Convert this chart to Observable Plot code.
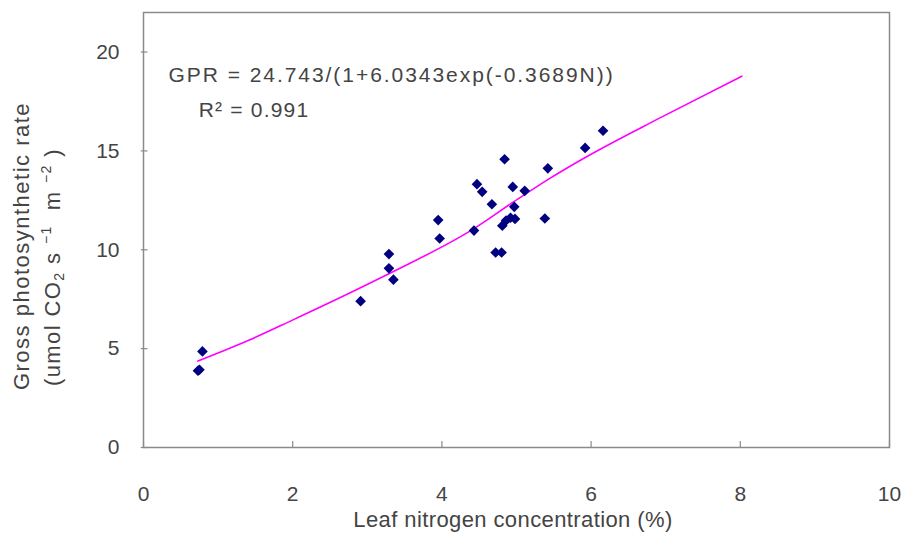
<!DOCTYPE html>
<html>
<head>
<meta charset="utf-8">
<script src="https://cdn.jsdelivr.net/npm/d3@7"></script>
<script src="https://cdn.jsdelivr.net/npm/@observablehq/plot@0.6"></script>
<style>
  html, body { margin: 0; padding: 0; background: #fff; }
  #chart { width: 904px; height: 534px; }
</style>
</head>
<body>
<div id="chart"></div>
<script>
// Observed data: leaf nitrogen (%) and gross photosynthetic rate
const leafN = [0.73, 0.75, 0.79, 2.91, 3.29, 3.29, 3.35, 3.95, 3.97, 4.43, 4.47, 4.54, 4.67, 4.72, 4.80,
               4.84, 4.81, 4.86, 4.92, 4.98, 4.97, 4.95, 5.11, 5.38, 5.42, 5.92, 6.16];
const gpr   = [3.88, 3.93, 4.86, 7.40, 9.78, 9.06, 8.49, 11.50, 10.57, 10.97, 13.32, 12.93, 12.30, 9.86, 9.86,
               14.58, 11.22, 11.48, 11.62, 11.56, 12.17, 13.18, 12.98, 11.58, 14.12, 15.15, 16.02];
// Fitted curve
const fitN   = [0.73, 1.41, 1.99, 2.84, 3.29, 4.43, 4.96, 5.42, 5.88, 6.95, 8.02];
const fitGPR = [4.37, 5.42, 6.43, 7.95, 8.79, 11.07, 12.42, 13.55, 14.58, 16.72, 18.78];
// Axis ticks
const xTicks = [0, 2, 4, 6, 8, 10];
const yTicks = [0, 5, 10, 15, 20];
// Annotation text
const formulaText = "GPR = 24.743/(1+6.0343exp(-0.3689N))";
const r2Text = "R² = 0.991";
const xTitle = "Leaf nitrogen concentration (%)";

const points = leafN.map((n, i) => ({n, g: gpr[i]}));
const fit = fitN.map((n, i) => ({n, g: fitGPR[i]}));
const notes = [
  {n: 0.335, g: 18.83, t: formulaText},
  {n: 0.74, g: 17.06, t: r2Text}
];

const textColor = "#444";
const font = "'Liberation Sans', Arial, sans-serif";

const svg = Plot.plot({
  width: 904,
  height: 534,
  marginLeft: 143,
  marginRight: 15,
  marginTop: 12,
  marginBottom: 87,
  x: {domain: [0, 10]},
  y: {domain: [0, 22]},
  style: {fontFamily: font, fontSize: "21px", color: textColor, background: "#fff"},
  marks: [
    Plot.frame({stroke: "#8a8a8a", strokeWidth: 1.5}),
    Plot.axisX({ticks: xTicks, tickSize: 0, tickPadding: 39, label: null, fontSize: 21}),
    Plot.axisY({ticks: yTicks, tickSize: 0, tickPadding: 24, label: null, fontSize: 21}),
    Plot.ruleX(xTicks, {x: d => d, y1: 0, y2: 0.3, stroke: "#8a8a8a", strokeWidth: 1.2}),
    Plot.ruleY(yTicks, {y: d => d, x1: -0.03, x2: 0.06, stroke: "#8a8a8a", strokeWidth: 1.2}),
    Plot.line(fit, {x: "n", y: "g", stroke: "#ff00ff", strokeWidth: 1.6, curve: "monotone-x"}),
    Plot.dot(points, {x: "n", y: "g", symbol: "diamond2", r: 4.8, fill: "#000080", stroke: "none"}),
    Plot.text(notes, {x: "n", y: "g", text: "t", textAnchor: "start", fontSize: 21, fill: textColor})
  ]
});

const s = d3.select(svg);
s.selectAll("text").filter(function() { return this.textContent === formulaText; })
  .style("letter-spacing", "1.95px");
s.selectAll("text").filter(function() { return this.textContent === r2Text; })
  .style("letter-spacing", "1.2px");

// X axis title
s.append("text")
  .attr("x", 513).attr("y", 527)
  .attr("text-anchor", "middle")
  .attr("font-family", font).attr("font-size", 22)
  .attr("fill", textColor)
  .style("letter-spacing", "0.4px")
  .text(xTitle);

// Y axis title, two lines with sub/superscripts
s.append("text")
  .attr("transform", "translate(29,246) rotate(-90)")
  .attr("text-anchor", "middle")
  .attr("font-family", font).attr("font-size", 22)
  .attr("fill", textColor)
  .style("letter-spacing", "1.5px")
  .text("Gross photosynthetic rate");

const y2 = s.append("text")
  .attr("transform", "translate(60,267) rotate(-90)")
  .attr("text-anchor", "middle")
  .attr("font-family", font).attr("font-size", 22)
  .attr("fill", textColor)
  .style("letter-spacing", "1.4px");
y2.append("tspan").text("(umol CO");
y2.append("tspan").attr("font-size", 14).attr("dy", 4).text("2");
y2.append("tspan").attr("dy", -4).text(" s ");
y2.append("tspan").attr("font-size", 14).attr("dy", -9).text("−1");
y2.append("tspan").attr("dy", 9).text("  m ");
y2.append("tspan").attr("font-size", 14).attr("dy", -9).text("−2");
y2.append("tspan").attr("dy", 9).text(" )");

document.getElementById("chart").appendChild(svg);
</script>
</body>
</html>
